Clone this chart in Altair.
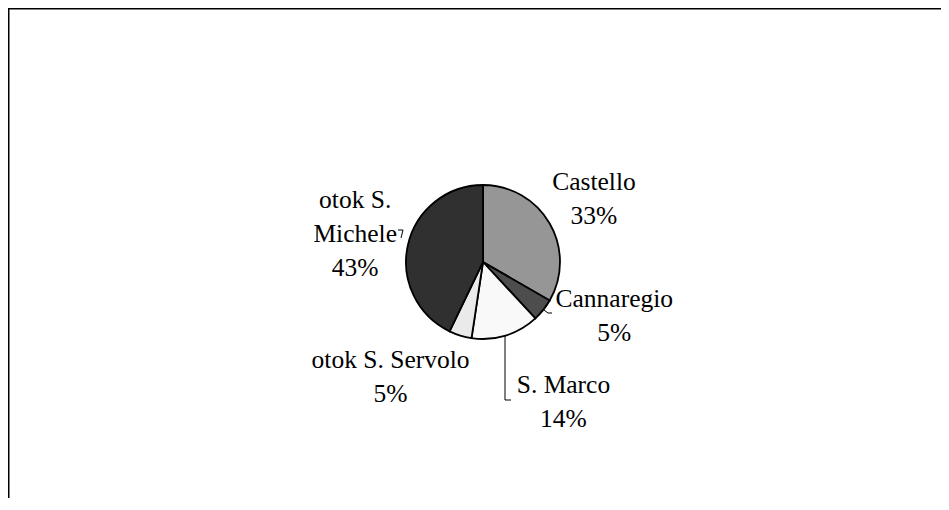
import altair as alt
import pandas as pd

# ---- data ----
districts = ["Castello", "Cannaregio", "S. Marco", "otok S. Servolo", "otok S. Michele"]
counts = [7, 1, 3, 1, 9]
shades = ["#969696", "#4d4d4d", "#f9f9f9", "#eaeaea", "#303030"]

df = pd.DataFrame({"district": districts, "count": counts, "idx": list(range(len(districts)))})
TOTAL = sum(counts)

W, H = 933, 490
CX, CY = 475, 254
R = 77
FONT = "Liberation Serif"
LH = 34

base = (
    alt.Chart(df)
    .transform_joinaggregate(total="sum(count)")
    .transform_calculate(share="datum.count / datum.total")
    .transform_stack(stack="count", groupby=[], as_=["t0", "t1"], sort=[alt.SortField("idx", order="ascending")])
    .transform_calculate(mid="(datum.t0 + datum.t1) / 2")
)

theta_scale = alt.Scale(domain=[0, TOTAL])

pie = base.mark_arc(outerRadius=R, stroke="black", strokeWidth=1.8).encode(
    theta=alt.Theta("t0:Q", scale=theta_scale),
    theta2="t1:Q",
    color=alt.Color("district:N", scale=alt.Scale(domain=districts, range=shades), legend=None),
    x=alt.value(CX),
    y=alt.value(CY),
)


def label_layer(name, text_expr, dx=0, dy=0):
    return (
        base.transform_filter(alt.datum.district == name)
        .transform_calculate(lab=text_expr)
        .mark_text(
            font=FONT, fontSize=25.5, lineBreak="\n", lineHeight=LH,
            align="center", baseline="middle", color="black", dx=dx, dy=dy,
        )
        .encode(
            theta=alt.Theta("mid:Q", scale=theta_scale),
            radius=alt.value(127),
            x=alt.value(CX),
            y=alt.value(CY),
            text="lab:N",
        )
    )


plain = "datum.district + '\\n' + format(datum.share, '.0%')"
wrapped = "replace(datum.district, 'S. ', 'S.\\n') + '\\n' + format(datum.share, '.0%')"

labels = [
    label_layer("Castello", plain, 1, -LH / 2),
    label_layer("Cannaregio", plain, 32, -25 - LH / 2),
    label_layer("S. Marco", plain, 43, 19 - LH / 2),
    label_layer("otok S. Servolo", plain, -55, -6 - LH / 2),
    label_layer("otok S. Michele", wrapped, -4, -LH),
]

one = alt.Chart(pd.DataFrame({"k": [0]}))


def seg(x1, y1, x2, y2, w=1.0):
    return one.mark_rule(color="black", strokeWidth=w).encode(
        x=alt.value(x1), y=alt.value(y1), x2=alt.value(x2), y2=alt.value(y2)
    )


frame = [seg(0, 0.75, W, 0.75, 1.5), seg(0.75, 0, 0.75, H, 1.5)]
leaders = [
    seg(497, 327, 497, 392),
    seg(497, 392, 503, 392),
    seg(536, 302, 540, 305),
    seg(540, 305, 544, 305),
    seg(390, 222, 395, 222),
    seg(395, 222, 393, 230),
]

chart = (
    alt.layer(pie, *labels, *leaders, *frame)
    .properties(width=W, height=H, padding=0, autosize=alt.AutoSizeParams(type="none"))
    .configure_view(stroke=None)
)

chart.save("out.html", embed_options={"renderer": "svg", "actions": False})
